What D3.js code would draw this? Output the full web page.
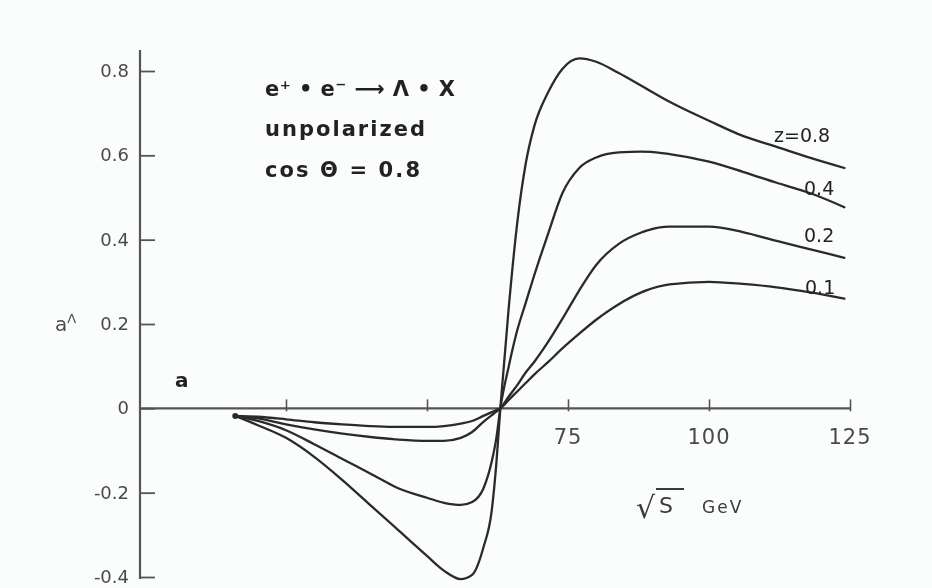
<!DOCTYPE html>
<html>
<head>
<meta charset="utf-8">
<script src="https://cdn.jsdelivr.net/npm/d3@7"></script>
<style>
  html, body { margin: 0; padding: 0; background: #fbfcfc; }
  svg { display: block; }
</style>
</head>
<body>
<svg id="chart" width="932" height="588"></svg>
<script>
// Centre-of-mass energy grid (GeV)
const energy = [16, 20, 25, 30, 35, 40, 45, 50, 53, 56, 58, 60, 61.5, 62.3, 63, 64.5, 66, 67.5, 69, 71.5, 74, 77, 80, 84, 88, 93, 100, 106, 112, 118, 124];

// Asymmetry a^Λ for each z
const z08 = [-0.018, -0.04, -0.07, -0.115, -0.17, -0.23, -0.29, -0.35, -0.385, -0.405, -0.395, -0.33, -0.24, -0.13, 0.0, 0.24, 0.44, 0.58, 0.668, 0.75, 0.805, 0.83, 0.822, 0.795, 0.765, 0.727, 0.682, 0.646, 0.62, 0.594, 0.57];
const z04 = [-0.018, -0.03, -0.052, -0.085, -0.12, -0.155, -0.19, -0.212, -0.224, -0.229, -0.222, -0.19, -0.125, -0.07, 0.0, 0.1, 0.185, 0.25, 0.315, 0.415, 0.51, 0.57, 0.595, 0.607, 0.609, 0.603, 0.585, 0.561, 0.535, 0.51, 0.477];
const z02 = [-0.018, -0.024, -0.038, -0.05, -0.06, -0.068, -0.074, -0.077, -0.077, -0.07, -0.056, -0.032, -0.016, -0.008, 0.0, 0.028, 0.055, 0.085, 0.11, 0.158, 0.212, 0.28, 0.34, 0.39, 0.417, 0.431, 0.431, 0.418, 0.397, 0.377, 0.357];
const z01 = [-0.018, -0.02, -0.026, -0.033, -0.038, -0.042, -0.044, -0.044, -0.042, -0.036, -0.03, -0.018, -0.009, -0.004, 0.0, 0.02, 0.04, 0.06, 0.08, 0.11, 0.142, 0.177, 0.21, 0.247, 0.275, 0.294, 0.3, 0.295, 0.287, 0.275, 0.26];

const seriesLabels = ["z=0.8", "0.4", "0.2", "0.1"];
const yTicks = [-0.4, -0.2, 0, 0.2, 0.4, 0.6, 0.8];
const yTickLabels = ["-0.4", "-0.2", "0", "0.2", "0.4", "0.6", "0.8"];
const xTicks = [25, 50, 75, 100, 125];
const xTickLabels = ["", "", "75", "100", "125"];
const annotation = ["e\u207A \u2022 e\u207B \u27F6 \u039B \u2022 X", "unpolarized", "cos  \u0398 = 0.8"];

const series = [z08, z04, z02, z01];

const svg = d3.select("#chart");
const ink = "#2b2b2b";
const grey = "#555";

svg.append("defs").append("filter").attr("id", "soft")
  .append("feGaussianBlur").attr("stdDeviation", 0.45);

const g = svg.append("g").attr("filter", "url(#soft)");

const x = d3.scaleLinear().domain([0, 125]).range([145, 850]);
const y = d3.scaleLinear().domain([-0.4, 0.8]).range([577, 71]);
const axisX = 140;

// y axis
const yAxis = d3.axisRight(y)
  .tickValues(yTicks)
  .tickSize(15)
  .tickFormat(() => "");
const ya = g.append("g").attr("transform", `translate(${axisX},0)`).call(yAxis);
ya.select(".domain").remove();
ya.selectAll(".tick line").attr("stroke", grey).attr("stroke-width", 1.8);
g.append("line")
  .attr("x1", axisX).attr("x2", axisX)
  .attr("y1", 50).attr("y2", y(-0.4) + 2)
  .attr("stroke", grey).attr("stroke-width", 2.2);

g.selectAll(".ylab").data(yTicks).enter().append("text")
  .attr("class", "ylab")
  .attr("x", axisX - 11)
  .attr("y", d => y(d) + 6)
  .attr("text-anchor", "end")
  .attr("font-family", "DejaVu Sans, sans-serif")
  .attr("font-size", 18)
  .attr("fill", "#4a4a4a")
  .text((d, i) => yTickLabels[i]);

// y axis title a^Λ
const yt = g.append("text")
  .attr("x", 55).attr("y", y(0.2) + 7)
  .attr("font-family", "DejaVu Sans, sans-serif")
  .attr("font-size", 20)
  .attr("fill", "#4a4a4a");
yt.append("tspan").text("a");
yt.append("tspan").attr("font-size", 13).attr("dy", -8).text("\u039B");

// x axis
const xAxis = d3.axisBottom(x)
  .tickValues(xTicks)
  .tickSize(0)
  .tickFormat(() => "");
const xa = g.append("g").attr("transform", `translate(0,${y(0)})`).call(xAxis);
xa.select(".domain").remove();
xa.selectAll(".tick").append("line")
  .attr("y1", -9).attr("y2", 3)
  .attr("stroke", grey).attr("stroke-width", 1.6);
g.append("line")
  .attr("x1", axisX).attr("x2", x(125))
  .attr("y1", y(0)).attr("y2", y(0))
  .attr("stroke", grey).attr("stroke-width", 2.2);

g.selectAll(".xlab").data(xTicks).enter().append("text")
  .attr("class", "xlab")
  .attr("x", d => x(d))
  .attr("y", y(0) + 36)
  .attr("text-anchor", "middle")
  .attr("font-family", "DejaVu Sans, sans-serif")
  .attr("font-size", 21)
  .attr("letter-spacing", 1)
  .attr("fill", "#4a4a4a")
  .text((d, i) => xTickLabels[i]);

// x axis title √S GeV
g.append("text")
  .attr("x", 636).attr("y", 518)
  .attr("font-family", "DejaVu Sans, sans-serif")
  .attr("font-size", 30)
  .attr("fill", "#3a3a3a")
  .text("\u221A");
g.append("text")
  .attr("x", 659).attr("y", 513)
  .attr("font-family", "DejaVu Sans, sans-serif")
  .attr("font-size", 22)
  .attr("fill", "#3a3a3a")
  .text("S");
g.append("line")
  .attr("x1", 656).attr("x2", 684).attr("y1", 489).attr("y2", 489)
  .attr("stroke", "#3a3a3a").attr("stroke-width", 2);
g.append("text")
  .attr("x", 702).attr("y", 513)
  .attr("font-family", "DejaVu Sans, sans-serif")
  .attr("font-size", 17)
  .attr("letter-spacing", 2)
  .attr("fill", "#3a3a3a")
  .text("GeV");

// curves
const line = d3.line()
  .x((d, i) => x(energy[i]))
  .y(d => y(d))
  .curve(d3.curveMonotoneX);

g.selectAll(".curve").data(series).enter().append("path")
  .attr("class", "curve")
  .attr("d", d => line(d))
  .attr("fill", "none")
  .attr("stroke", ink)
  .attr("stroke-width", 2.3)
  .attr("stroke-linejoin", "round")
  .attr("stroke-linecap", "round");

// common starting point
g.append("circle")
  .attr("cx", x(energy[0])).attr("cy", y(z08[0]))
  .attr("r", 3).attr("fill", ink);

// curve labels
const labelPos = [[774, 142], [804, 195], [804, 242], [805, 294]];
g.selectAll(".zlab").data(seriesLabels).enter().append("text")
  .attr("class", "zlab")
  .attr("x", (d, i) => labelPos[i][0])
  .attr("y", (d, i) => labelPos[i][1])
  .attr("font-family", "DejaVu Sans, sans-serif")
  .attr("font-size", 19)
  .attr("fill", "#222")
  .text(d => d);

// process annotation
const annPos = [[265, 96, 190], [265, 136, 160], [265, 177, 155]];
g.selectAll(".ann").data(annotation).enter().append("text")
  .attr("class", "ann")
  .attr("x", (d, i) => annPos[i][0])
  .attr("y", (d, i) => annPos[i][1])
  .attr("textLength", (d, i) => annPos[i][2])
  .attr("lengthAdjust", "spacing")
  .attr("font-family", "DejaVu Sans, sans-serif")
  .attr("font-weight", "bold")
  .attr("font-size", 21)
  .attr("fill", "#222")
  .text(d => d);

// panel label
g.append("text")
  .attr("x", 175).attr("y", 387)
  .attr("font-family", "DejaVu Sans, sans-serif")
  .attr("font-weight", "bold")
  .attr("font-size", 20)
  .attr("fill", "#222")
  .text("a");
</script>
</body>
</html>
